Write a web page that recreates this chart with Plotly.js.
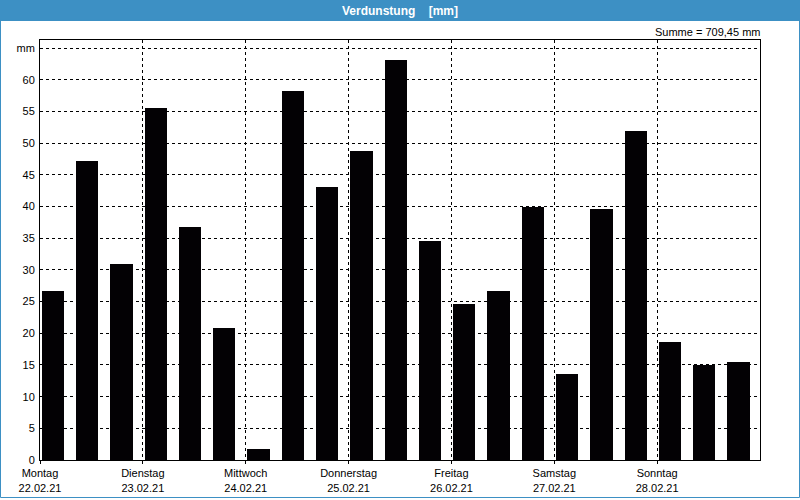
<!DOCTYPE html>
<html>
<head>
<meta charset="utf-8">
<script src="https://cdn.plot.ly/plotly-3.0.1.min.js"></script>
<style>
  body { margin: 0; background: #ffffff; }
  #chart { width: 800px; height: 500px; }
</style>
</head>
<body>
<div id="chart"></div>
<script>
// Verdunstung in mm, 3 Werte pro Tag
var days = ["Montag", "Dienstag", "Mittwoch", "Donnerstag", "Freitag", "Samstag", "Sonntag"];
var dates = ["22.02.21", "23.02.21", "24.02.21", "25.02.21", "26.02.21", "27.02.21", "28.02.21"];
var values = [26.7, 47.2, 31.0, 55.6, 36.8, 20.9, 1.8, 58.2, 43.1, 48.7, 63.2, 34.6,
              24.6, 26.7, 40.0, 13.5, 39.6, 51.9, 18.7, 15.0, 15.4];
var yTickVals = [0, 5, 10, 15, 20, 25, 30, 35, 40, 45, 50, 55, 60, 65];
var yTickText = ["0", "5", "10", "15", "20", "25", "30", "35", "40", "45", "50", "55", "60", "mm"];
var summeText = "Summe = 709,45 mm";

var perDay = 3;
var xs = values.map(function(v, i) { return i; });
var xTickVals = days.map(function(d, i) { return i * perDay; });
var xTickText = days.map(function(d, i) { return d + "<br>" + dates[i]; });

var blue = "#3d90c4";
var font = "Liberation Sans, Arial, sans-serif";

var data = [{
  type: "bar",
  x: xs,
  y: values,
  offset: 0.05,
  width: 0.65,
  marker: { color: "#030104", line: { width: 0 } },
  hoverinfo: "y"
}];

// plot area is 720 x 420 px, margins 40 on each side
var pw = 720, ph = 420;
var layout = {
  width: 800,
  height: 500,
  margin: { l: 40, r: 40, t: 40, b: 40 },
  paper_bgcolor: "#ffffff",
  plot_bgcolor: "#ffffff",
  showlegend: false,
  bargap: 0,
  font: { family: font, size: 11, color: "#000000" },
  title: {
    text: "Verdunstung\u00a0\u00a0\u00a0\u00a0[mm]",
    font: { family: font, size: 12, color: "#ffffff", weight: "bold" },
    x: 0.5,
    xanchor: "center",
    y: 1 - 10.5 / 500,
    yref: "container",
    yanchor: "middle"
  },
  xaxis: {
    range: [0, values.length],
    tickmode: "array",
    tickvals: xTickVals,
    ticktext: xTickText,
    showgrid: true,
    gridcolor: "#000000",
    gridwidth: 1,
    griddash: "3px,3px",
    zeroline: false,
    showline: true,
    linecolor: "#000000",
    linewidth: 1,
    mirror: true,
    ticks: "outside",
    ticklen: 3,
    tickcolor: "#000000",
    tickfont: { family: font, size: 11, color: "#000000" },
    fixedrange: true
  },
  yaxis: {
    range: [0, 66.3],
    tickmode: "array",
    tickvals: yTickVals,
    ticktext: yTickText,
    showgrid: true,
    gridcolor: "#000000",
    gridwidth: 1,
    griddash: "3px,3px",
    zeroline: false,
    showline: true,
    linecolor: "#000000",
    linewidth: 1,
    mirror: true,
    ticks: "",
    ticklabelstandoff: 2,
    tickfont: { family: font, size: 11, color: "#000000" },
    fixedrange: true
  },
  annotations: [{
    text: summeText,
    xref: "paper", yref: "paper",
    x: 1 + 2 / pw, xanchor: "right",
    y: 1 + 8 / ph, yanchor: "middle",
    showarrow: false,
    font: { family: font, size: 11, color: "#000000" }
  }],
  shapes: [
    {
      type: "rect", xref: "paper", yref: "paper", layer: "below",
      x0: -40 / pw, x1: 1 + 40 / pw, y0: 1 + 19 / ph, y1: 1 + 40 / ph,
      fillcolor: blue, line: { width: 0 }
    },
    {
      type: "rect", xref: "paper", yref: "paper", layer: "below",
      x0: -39.5 / pw, x1: 1 + 39.5 / pw, y0: -37.5 / ph, y1: 1 + 20 / ph,
      fillcolor: "rgba(0,0,0,0)", line: { color: blue, width: 1 }
    }
  ]
};

Plotly.newPlot("chart", data, layout, { displayModeBar: false, staticPlot: true });
</script>
</body>
</html>
